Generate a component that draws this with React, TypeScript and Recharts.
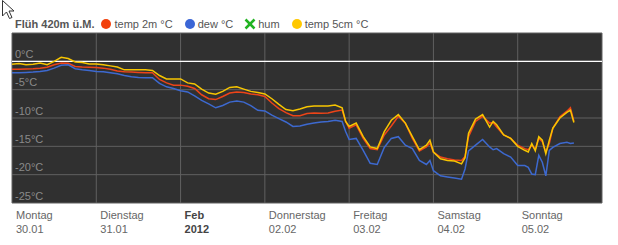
import React from "react";
import { LineChart, Line, XAxis, YAxis, CartesianGrid, ReferenceLine } from "recharts";

// hours since Monday 30.01.2012 00:00
const hours = [
  0, 2, 4, 6, 8, 10, 12, 14, 16, 18, 20, 22, 24, 26, 28, 30, 32, 34, 36, 38, 40, 42, 44, 46, 48,
  50, 52, 54, 56, 58, 60, 62, 64, 66, 68, 70, 72, 74, 76, 78, 80, 82, 84, 86, 88, 90, 92, 94, 95,
  96, 98, 100, 102, 104, 106, 108, 110, 112, 114, 116, 118, 119, 120, 122, 124, 126, 128, 129,
  130, 132, 134, 136, 137, 138, 140, 142, 144, 146, 147, 148, 149, 150, 151, 152, 153, 154, 156,
  158, 159, 160,
];

const temp2m = [
  -1.4, -1.4, -1.35, -1.3, -1.2, -1.05, -0.6, -0.3, -0.35, -0.9, -1.0, -1.05, -1.1, -1.2, -1.4,
  -1.7, -1.85, -1.9, -1.95, -2.0, -2.0, -3.2, -3.8, -4.2, -4.2, -4.4, -4.8, -5.9, -6.6, -6.75,
  -6.2, -5.6, -5.4, -5.5, -5.75, -5.9, -6.2, -7.35, -8.35, -9.05, -9.6, -9.6, -9.2, -9.1, -9.15,
  -9.1, -8.8, -8.6, -10.6, -11.8, -11.2, -13.6, -15.4, -15.6, -13.0, -11.4, -9.7, -10.9, -13.6,
  -15.8, -15.1, -14.4, -16.0, -16.9, -17.2, -17.4, -17.5, -16.8, -13.3, -10.6, -9.7, -10.9,
  -10.8, -11.6, -13.0, -13.6, -14.8, -15.4, -15.6, -14.8, -15.5, -13.6, -14.2, -16.0, -14.5,
  -11.8, -9.8, -8.8, -8.2, -10.6,
];

const dew = [
  -2.0, -2.0, -1.95, -1.9, -1.8, -1.6, -1.2, -0.7, -0.6, -1.3, -1.5, -1.6, -1.8, -1.85, -2.0,
  -2.2, -2.5, -2.7, -2.85, -2.9, -2.9, -3.9, -4.5, -4.8, -5.2, -5.4, -6.1, -6.9, -7.5, -8.2,
  -7.8, -7.2, -7.0, -7.2, -7.8, -8.65, -8.75, -9.5, -10.1, -10.7, -11.5, -11.4, -11.1, -10.9,
  -10.7, -10.6, -10.4, -10.6, -12.4, -13.8, -13.6, -15.7, -18.0, -18.2, -15.2, -13.6, -13.3,
  -14.8, -15.4, -17.5, -18.2, -17.5, -19.3, -20.2, -20.4, -20.6, -20.8, -19.0, -15.8, -14.8,
  -13.8, -15.1, -15.6, -15.4, -16.3, -16.9, -18.4, -18.4, -18.7, -19.9, -20.0, -16.6, -17.8,
  -20.2, -15.7, -15.2, -14.5, -14.3, -14.5, -14.4,
];

const temp5cm = [
  -0.5, -0.4, -0.6, -0.5, -0.3, -0.6, 0.0, 0.7, 0.5, -0.1, -0.2, -0.45, -0.45, -0.6, -0.8,
  -1.0, -1.5, -1.5, -1.5, -1.5, -1.6, -2.5, -3.1, -3.1, -3.1, -3.8, -4.0, -4.9, -5.6, -5.8,
  -5.3, -4.6, -4.5, -4.9, -5.3, -5.5, -5.75, -6.6, -7.6, -8.5, -8.7, -8.4, -8.0, -7.9, -7.9,
  -7.9, -7.7, -8.2, -10.6, -11.5, -10.9, -13.3, -15.1, -15.4, -12.4, -10.4, -9.4, -10.9, -13.3,
  -15.6, -14.8, -13.9, -16.0, -17.2, -17.5, -17.6, -18.1, -17.0, -12.7, -10.2, -9.4, -11.6,
  -10.6, -11.2, -13.0, -13.6, -15.0, -15.7, -16.0, -14.5, -15.8, -13.3, -13.9, -16.3, -13.9,
  -11.8, -10.0, -9.0, -8.6, -10.8,
];

const dayTicks = [0, 24, 48, 72, 96, 120, 144];
const dayLabels = ["Montag", "Dienstag", "Feb", "Donnerstag", "Freitag", "Samstag", "Sonntag"];
const dateLabels = ["30.01", "31.01", "2012", "02.02", "03.02", "04.02", "05.02"];
const boldTicks = [48];
const tempTicks = [-25, -20, -15, -10, -5, 0];

const stationTitle = "Flüh 420m ü.M.";
const legendNames = ["temp 2m °C", "dew °C", "hum", "temp 5cm °C"];
const legendColors = ["#f2400c", "#3b66d6", "#22b322", "#ffc800"];
const legendShapes = ["circle", "circle", "cross", "circle"];

const data = hours.map((h, i) => ({ h, t2: temp2m[i], dew: dew[i], t5: temp5cm[i] }));

const FONT = "'Liberation Sans', Arial, sans-serif";

const DayTick = (props: any) => {
  const { x, y, payload } = props;
  const i = dayTicks.indexOf(payload.value);
  if (i < 0) return null;
  const bold = boldTicks.includes(payload.value);
  return (
    <g>
      <text x={x + 4} y={y + 16} fontSize={11} fontFamily={FONT} fill={bold ? "#444" : "#666"} fontWeight={bold ? "bold" : "normal"} textAnchor="start">
        {dayLabels[i]}
      </text>
      <text x={x + 4} y={y + 29.5} fontSize={11} fontFamily={FONT} fill={bold ? "#444" : "#666"} fontWeight={bold ? "bold" : "normal"} textAnchor="start">
        {dateLabels[i]}
      </text>
    </g>
  );
};

const TempTick = (props: any) => {
  const { y, payload } = props;
  return (
    <text x={15} y={y - 3.5} fontSize={11} fontFamily={FONT} fill="#8a8a8a" textAnchor="start">
      {`${payload.value}°C`}
    </text>
  );
};

const Marker = ({ shape, color }: { shape: string; color: string }) => (
  <svg width={12} height={12} style={{ display: "inline-block", verticalAlign: "middle", marginRight: 2 }}>
    {shape === "circle" ? (
      <circle cx={6} cy={6} r={5} fill={color} />
    ) : (
      <g stroke={color} strokeWidth={2.5}>
        <line x1={1.5} y1={1.5} x2={10.5} y2={10.5} />
        <line x1={10.5} y1={1.5} x2={1.5} y2={10.5} />
      </g>
    )}
  </svg>
);

export default function App() {
  return (
    <div style={{ position: "absolute", left: 0, top: 0, width: 618, height: 245, background: "#fff" }}>
      <svg width={16} height={22} style={{ position: "absolute", left: 1, top: 0 }}>
        <path d="M1.5 0.5 L1.5 16 L5.5 12 L8.5 18.5 L11 17.5 L8 11 L13 11 Z" fill="#fff" stroke="#333" strokeWidth={1} />
      </svg>
      <div
        style={{
          position: "absolute",
          left: 15,
          top: 17,
          height: 14,
          lineHeight: "14px",
          fontFamily: FONT,
          fontSize: 11,
          color: "#555",
          whiteSpace: "nowrap",
          display: "flex",
          alignItems: "center",
        }}
      >
        <span style={{ fontWeight: "bold", color: "#555", marginRight: 6 }}>{stationTitle}</span>
        {legendNames.map((n, i) => (
          <span key={n} style={{ display: "inline-flex", alignItems: "center", marginRight: 11 }}>
            <Marker shape={legendShapes[i]} color={legendColors[i]} />
            <span>{n}</span>
          </span>
        ))}
      </div>
      <LineChart width={618} height={245} data={data} margin={{ top: 33, right: 16, bottom: 0, left: 12 }}>
        <CartesianGrid stroke="#606060" fill="#303030" fillOpacity={1} />
        <XAxis
          type="number"
          dataKey="h"
          domain={[0, 168]}
          ticks={dayTicks}
          interval={0}
          height={42}
          axisLine={false}
          tickLine={false}
          tickSize={0}
          tickMargin={0}
          tick={<DayTick />}
          allowDataOverflow
        />
        <YAxis
          type="number"
          domain={[-25, 5]}
          ticks={tempTicks}
          interval={0}
          width={40}
          mirror
          axisLine={false}
          tickLine={false}
          tick={<TempTick />}
          allowDataOverflow
        />
        <ReferenceLine y={0} stroke="#ffffff" strokeWidth={1.2} />
        <Line type="linear" dataKey="t2" stroke="#ec4418" strokeWidth={1.5} dot={false} isAnimationActive={false} />
        <Line type="linear" dataKey="dew" stroke="#3d69cf" strokeWidth={1.5} dot={false} isAnimationActive={false} />
        <Line type="linear" dataKey="t5" stroke="#f7c500" strokeWidth={1.5} dot={false} isAnimationActive={false} />
      </LineChart>
    </div>
  );
}
